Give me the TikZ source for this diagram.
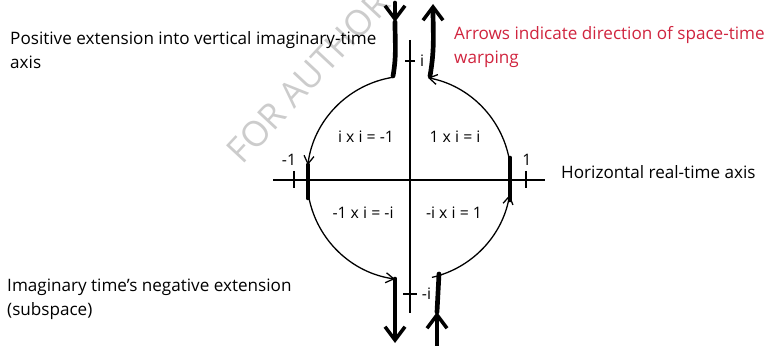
\documentclass[tikz,border=0pt]{standalone}
\usepackage{fontspec}
\setmainfont{Open Sans}
\usetikzlibrary{arrows.meta, positioning, calc}
\definecolor{warpred}{RGB}{208,36,62}

\begin{document}
\begin{tikzpicture}[
    x=0.03cm, y=0.03cm,
    note/.style={align=left, inner sep=0pt, font=\fontsize{14.6}{20.8}\selectfont},
    lbl/.style={inner sep=0pt, font=\fontsize{13.5}{16}\selectfont},
    axis/.style={line width=1.2pt},
    ring/.style={line width=1.1pt, -{Straight Barb[length=2.4mm, width=3mm]}},
    thk/.style={line width=4pt, line cap=round},
    thkarr/.style={line width=4pt, line cap=round,
                   -{Straight Barb[length=4mm, width=6mm, line width=3pt]}},
]
\useasboundingbox (0,0) rectangle (766,-346);
\clip (0,0) rectangle (766,-346);

% watermark
\node[rotate=47, anchor=south west, inner sep=0pt, text=black!20,
      font=\fontsize{30}{30}\selectfont] (wm) at (243,-166) {FOR AUTHOR USE ONLY};

% axes and ticks
\coordinate (O) at (409,-178);
\coordinate (vtop) at (410,-40);
\coordinate (vbot) at (410,-313);
\coordinate (hleft) at (273,-180);
\coordinate (hright) at (545,-180);
\draw[axis] (vtop) -- (vbot);
\draw[axis] (hleft) -- (hright);

\coordinate (ti) at (410,-61);
\coordinate (tmi) at (410,-294);
\coordinate (tmone) at (294,-180);
\coordinate (tone) at (526,-180);
\draw[axis] (ti) +(-5,0) -- +(5,0);
\draw[axis] (tmi) +(-7,0) -- +(7,0);
\draw[axis] (tmone) +(0,9) -- +(0,-8);
\draw[axis] (tone) +(0,9) -- +(0,-8);

\node[lbl, right=0.3cm of ti] (li) {i};
\node[lbl, right=0.35cm of tmi] (lmi) {-i};
\node[lbl] (lmone) at (289,-160) {-1};
\node[lbl] (lone) at (527,-160) {1};

% quadrant products
\node[lbl] (q1) at (455,-137) {1 x i = i};
\node[lbl] (q2) at (366,-137) {i x i = -1};
\node[lbl] (q3) at (363,-213) {-1 x i = -i};
\node[lbl] (q4) at (454,-213) {-i x i = 1};

% circle, four arcs
\coordinate (a1) at ($(O)+(99.6:102)$);
\coordinate (a2) at ($(O)+(190.7:102)$);
\coordinate (a3) at ($(O)+(283:102)$);
\coordinate (a4) at ($(O)+(10.2:102)$);
\draw[ring] (a1) arc[start angle=99.6, end angle=172.7, radius=102];
\draw[ring] (a2) arc[start angle=190.7, end angle=262.1, radius=102];
\draw[ring] (a3) arc[start angle=283, end angle=350.4, radius=102];
\draw[ring] (a4) arc[start angle=10.2, end angle=79.3, radius=102];

% thick warping strokes
\coordinate (lA) at (308,-165);
\coordinate (lB) at (308,-198);
\coordinate (rA) at (510,-200);
\coordinate (rB) at (510,-158);
\draw[thk] (lA) -- (lB);
\draw[thk] (rA) -- (rB);

\coordinate (tlA) at (393,-76);
\coordinate (tlM) at (395,-22);
\coordinate (tlB) at (395,-3);
\draw[thk] (tlA) to[out=80, in=-90] (tlM);
\draw[thkarr] (tlB) -- (tlM);

\coordinate (trA) at (430,-76);
\coordinate (trB) at (433,-4);
\draw[thkarr] (trA) to[out=80, in=-90] (trB);

\coordinate (blA) at (395,-279);
\coordinate (blB) at (395,-343);
\draw[thkarr] (blA) -- (blB);

\coordinate (brA) at (439,-274);
\coordinate (brM) at (437,-312);
\coordinate (brB) at (437,-350);
\draw[thk] (brA) -- (brM);
\draw[thkarr] (brB) -- (brM);

% explanatory texts
\node[note, anchor=west] (pos) at (10,-50)
    {Positive extension into vertical imaginary-time\\axis};
\node[note, anchor=west] (neg) at (7,-299)
    {Imaginary time{\char39}s negative extension\\(subspace)};
\node[note, anchor=west, text=warpred] (warp) at (454,-47)
    {Arrows indicate direction of space-time\\warping};
\node[note, anchor=west] (horiz) at (561,-172) {Horizontal real-time axis};
\end{tikzpicture}
\end{document}
